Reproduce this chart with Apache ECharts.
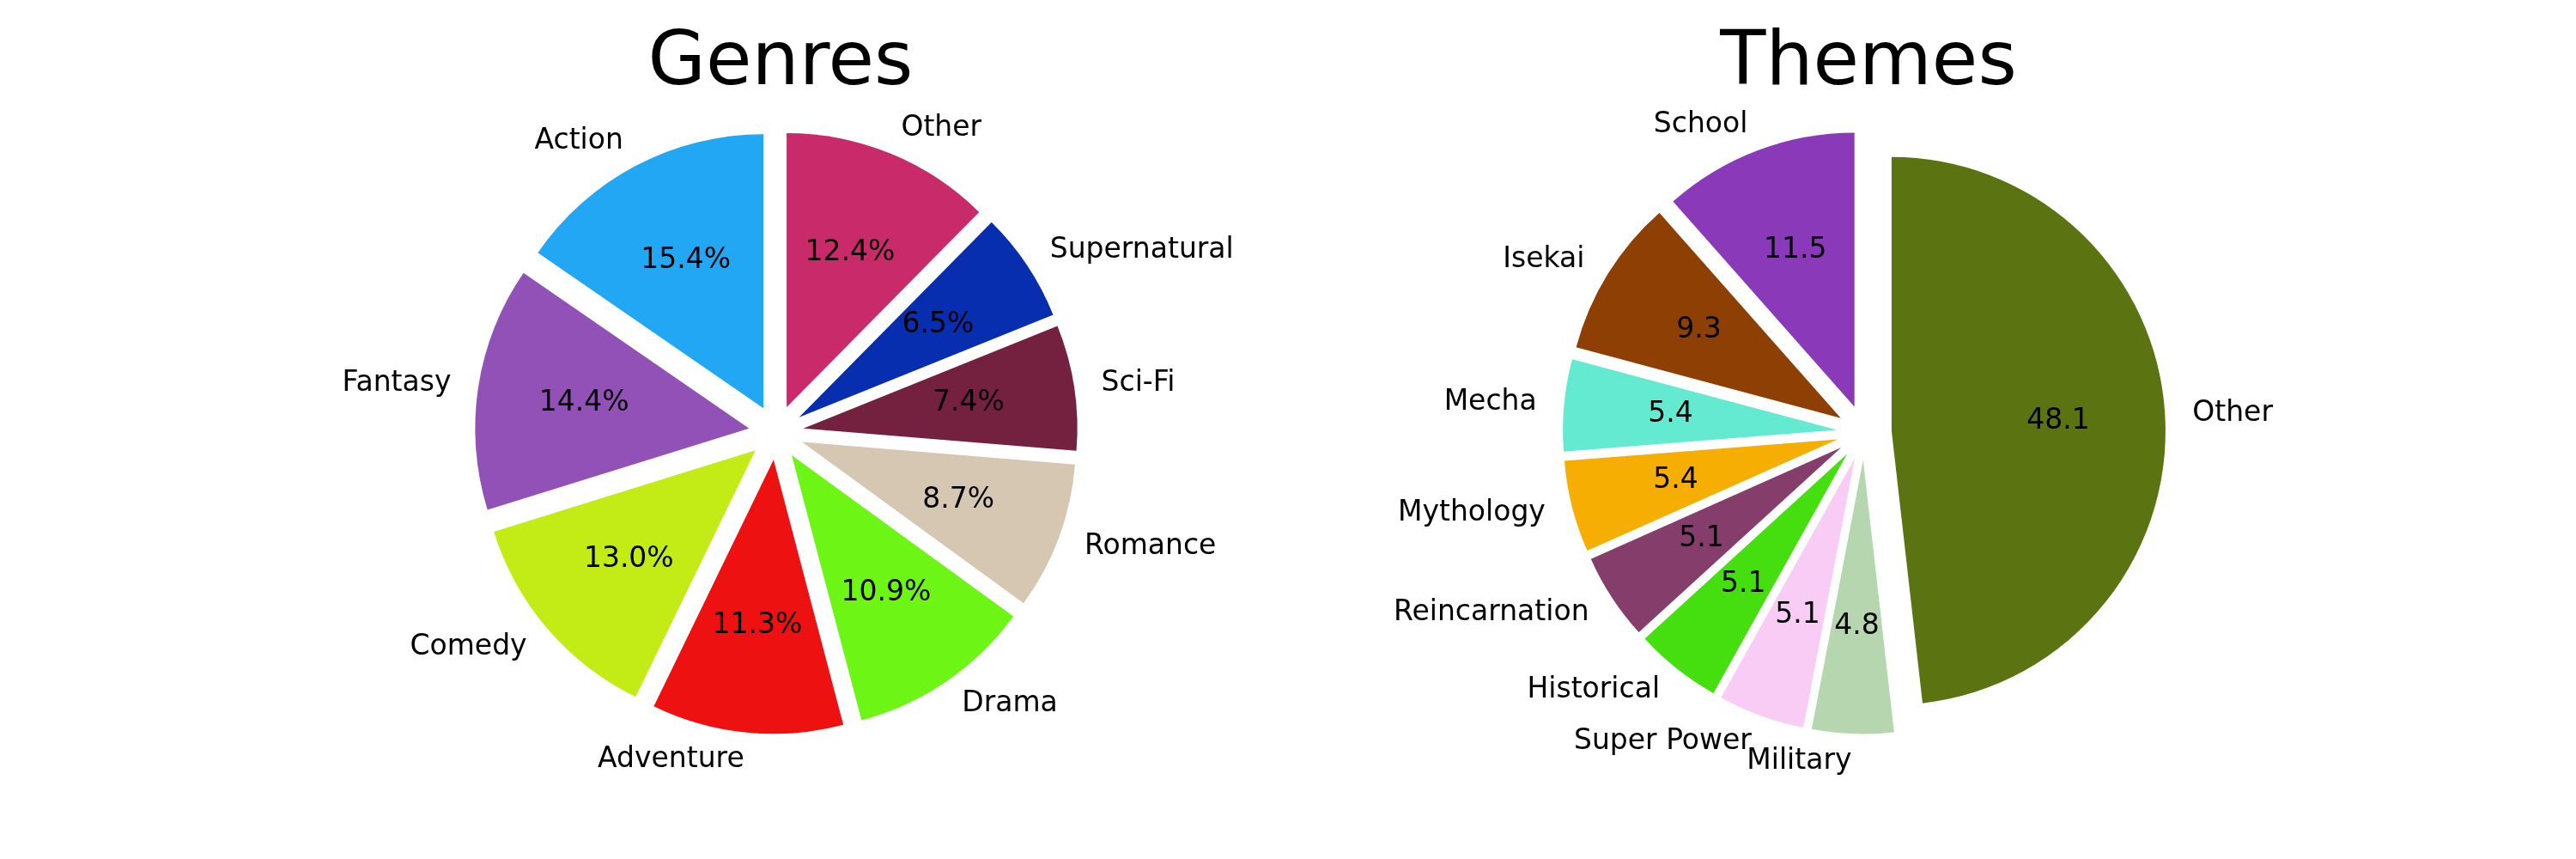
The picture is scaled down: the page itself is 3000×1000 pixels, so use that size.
<!DOCTYPE html>
<html>
<head>
<meta charset="utf-8">
<script src="https://cdn.jsdelivr.net/npm/echarts@6/dist/echarts.min.js"></script>
<style>
    html, body { margin: 0; padding: 0; background: #fff; }
    #chart { width: 3000px; height: 1000px; }
</style>
</head>
<body>
<div id="chart"></div>
<script>
// Genres pie
const genreNames = ['Action', 'Fantasy', 'Comedy', 'Adventure', 'Drama', 'Romance', 'Sci-Fi', 'Supernatural', 'Other'];
const genreValues = [15.4, 14.4, 13.0, 11.3, 10.9, 8.7, 7.4, 6.5, 12.4];
const genreColors = ['#22a7f5', '#9251b6', '#c3eb16', '#ee1111', '#6df516', '#d5c7b1', '#73213f', '#062eae', '#c82a6a'];

// Themes pie
const themeNames = ['School', 'Isekai', 'Mecha', 'Mythology', 'Reincarnation', 'Historical', 'Super Power', 'Military', 'Other'];
const themeValues = [11.5, 9.3, 5.4, 5.4, 5.1, 5.1, 5.1, 4.8, 48.1];
const themeColors = ['#8a3ab9', '#8e3f03', '#64ead0', '#f7ae02', '#853d6b', '#45df10', '#f8ccf4', '#b5d6af', '#5b7411'];

const FONT = 'DejaVu Sans';
const R = 319;

// main pie with outside names + transparent bigger pie that carries the inner value labels
function makePie(names, values, colors, center, offset, fmt) {
    const base = {
        type: 'pie',
        center: center,
        startAngle: 90,
        clockwise: false,
        selectedMode: 'multiple',
        selectedOffset: offset,
        avoidLabelOverlap: false,
        labelLayout: { hideOverlap: false },
        animation: false,
        silent: true,
        emphasis: { disabled: true }
    };
    const main = Object.assign({}, base, {
        radius: [0, R],
        label: {
            show: true,
            position: 'outside',
            fontFamily: FONT,
            fontSize: 33,
            color: '#000',
            overflow: 'none',
            distanceToLabelLine: 0
        },
        labelLine: { show: false, length: R * 0.1, length2: 0 },
        data: names.map((n, i) => ({
            name: n, value: values[i], selected: true,
            itemStyle: { color: colors[i] }
        }))
    });
    const pct = Object.assign({}, base, {
        radius: [0, R * 1.2],
        label: {
            show: true,
            position: 'inside',
            fontFamily: FONT,
            fontSize: 33,
            color: '#000',
            formatter: p => fmt(p.value)
        },
        labelLine: { show: false },
        data: names.map((n, i) => ({
            name: n, value: values[i], selected: true,
            itemStyle: { color: 'rgba(0,0,0,0)' }
        }))
    });
    return [main, pct];
}

const chart = echarts.init(document.getElementById('chart'));

chart.setOption({
    backgroundColor: '#fff',
    title: [
        { text: 'Genres', left: 904, top: 27, textAlign: 'center',
          textStyle: { fontFamily: FONT, fontSize: 87, fontWeight: 'normal', color: '#000' } },
        { text: 'Themes', left: 2171, top: 27, textAlign: 'center',
          textStyle: { fontFamily: FONT, fontSize: 87, fontWeight: 'normal', color: '#000' } }
    ],
    series: [
        ...makePie(genreNames, genreValues, genreColors, [904, 503.5], 32, v => v.toFixed(1) + '%'),
        ...makePie(themeNames, themeValues, themeColors, [2171, 503.5], 32, v => v.toFixed(1))
    ]
});
</script>
</body>
</html>
